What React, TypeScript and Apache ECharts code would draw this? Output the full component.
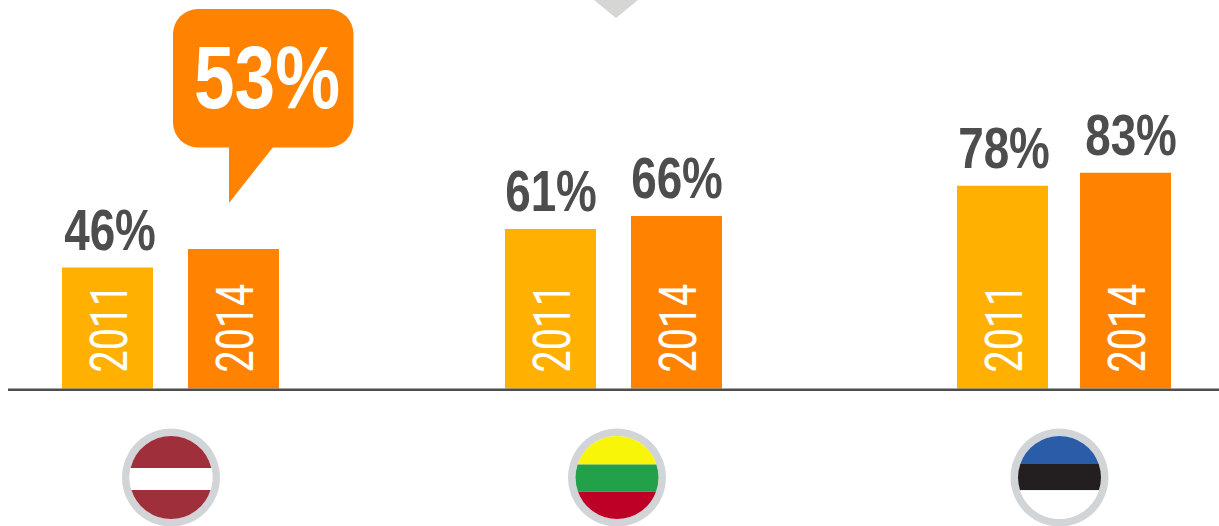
import React, { useEffect, useRef } from "react";
import * as echarts from "echarts";

const years = ["2011", "2014"];
const latvia = [46, 53];
const lithuania = [61, 66];
const estonia = [78, 83];
const yearColors = ["#ffb000", "#ff8300"];
const FONT = "'Liberation Sans', sans-serif";
const YEAR_FONT = "Roboto, 'Liberation Sans', sans-serif";
const INK = "#4d4d4d";

// One panel per country, because the picture's groups are not evenly spaced.
const panels = [
  { values: latvia, left: 44.5, width: 252, height: 263, shift: [2.5, 0] },
  { values: lithuania, left: 487.5, width: 252, height: 261.5, shift: [0.5, 0.5] },
  { values: estonia, left: 941, width: 246, height: 260, shift: [1.5, 5.5] },
];
const BASE = 388.5;

const flags = [
  { cx: 171, cy: 477.5, a: -9.5, b: 12.5, colors: ["#9f303b", "#ffffff", "#9f303b"] },
  { cx: 617, cy: 477.5, a: -13, b: 14.2, colors: ["#f9f508", "#23a04a", "#be0027"] },
  { cx: 1059.5, cy: 477.5, a: -13.5, b: 12.8, colors: ["#2a5ca8", "#231f20", "#ffffff"] },
];
const R = 41.5;

function chord(y: number) {
  return Math.sqrt(R * R - y * y);
}
let shapeCount = 0;
function shape(d: string) {
  const name = "flagPart" + shapeCount++;
  echarts.graphic.registerShape(name, echarts.graphic.extendPath(d, {}) as any);
  return name;
}

function flagElements() {
  const out: any[] = [];
  for (const f of flags) {
    const ca = chord(f.a);
    const cb = chord(f.b);
    out.push({ type: "circle", shape: { cx: f.cx, cy: f.cy, r: 49 }, style: { fill: "#d2d5d7" }, z: 5 });
    out.push({ type: "circle", shape: { cx: f.cx, cy: f.cy, r: R }, style: { fill: "#ffffff" }, z: 6 });
    const parts = [
      `M ${-ca} ${f.a} A ${R} ${R} 0 0 1 ${ca} ${f.a} Z`,
      `M ${-ca} ${f.a} L ${ca} ${f.a} A ${R} ${R} 0 0 1 ${R} 0 A ${R} ${R} 0 0 1 ${cb} ${f.b} L ${-cb} ${f.b} A ${R} ${R} 0 0 1 ${-R} 0 A ${R} ${R} 0 0 1 ${-ca} ${f.a} Z`,
      `M ${-cb} ${f.b} L ${cb} ${f.b} A ${R} ${R} 0 0 1 ${-cb} ${f.b} Z`,
    ];
    parts.forEach((d, i) => {
      out.push({ type: shape(d), x: f.cx, y: f.cy, style: { fill: f.colors[i] }, z: 7 });
    });
  }
  return out;
}

export default function App() {
  const ref = useRef<HTMLDivElement>(null);
  useEffect(() => {
    document.body.style.margin = "0";
    const chart = echarts.init(ref.current!, null, { renderer: "svg" });
    const grid: any[] = [];
    const xAxis: any[] = [];
    const yAxis: any[] = [];
    const series: any[] = [];
    panels.forEach((p, i) => {
      grid.push({ left: p.left, width: p.width, top: BASE - p.height, height: p.height });
      xAxis.push({ type: "category", gridIndex: i, data: years, show: false });
      yAxis.push({ type: "value", gridIndex: i, min: 0, max: 100, show: false });
      series.push({
        type: "bar",
        xAxisIndex: i,
        yAxisIndex: i,
        barWidth: 91,
        silent: true,
        data: p.values.map((v, k) => ({ value: v, itemStyle: { color: yearColors[k] } })),
      });
      series.push({
        type: "custom",
        xAxisIndex: i,
        yAxisIndex: i,
        silent: true,
        z: 4,
        clip: false,
        encode: { x: 0, y: 1 },
        data: p.values.map((v, k) => [k, v]),
        renderItem: (_params: any, api: any) => {
          const k = api.value(0);
          const v = api.value(1);
          const [x, y] = api.coord([k, v]);
          const [, base] = api.coord([k, 0]);
          const big = i === 0 && k === 1;
          return {
            type: "group",
            children: [
              {
                type: "text",
                x: x + 1.5,
                y: base - 16,
                rotation: Math.PI / 2,
                scaleX: 0.76,
                style: {
                  text: years[k],
                  fill: "#ffffff",
                  fontFamily: YEAR_FONT,
                  fontWeight: 400,
                  fontSize: 52,
                  align: "left",
                  verticalAlign: "middle",
                },
              },
              {
                type: "text",
                x: big ? x + 33.5 : x + p.shift[k],
                y: big ? y - 128 : y - 9,
                scaleX: big ? 0.82 : 0.79,
                style: {
                  text: v + "%",
                  fill: big ? "#ffffff" : INK,
                  fontFamily: FONT,
                  fontWeight: "bold",
                  fontSize: big ? 89 : 58,
                  align: "center",
                  verticalAlign: "bottom",
                },
              },
            ],
          };
        },
      });
    });
    chart.setOption({
      animation: false,
      backgroundColor: "#ffffff",
      grid,
      xAxis,
      yAxis,
      series,
      graphic: [
        { type: "polygon", shape: { points: [[594, 0], [638, 0], [616, 18]] }, style: { fill: "#d6d6d4" } },
        { type: "line", shape: { x1: 8, y1: 389.7, x2: 1219, y2: 389.7 }, style: { stroke: INK, lineWidth: 2.5 }, z: 5 },
        { type: "rect", shape: { x: 173, y: 9, width: 180.5, height: 138.5, r: 25 }, style: { fill: "#ff8300" }, z: 1 },
        { type: "polygon", shape: { points: [[229, 146], [229, 203], [274, 146]] }, style: { fill: "#ff8300" }, z: 1 },
        ...flagElements(),
      ],
    });
    return () => chart.dispose();
  }, []);
  return <div ref={ref} style={{ width: 1219, height: 526 }} />;
}
